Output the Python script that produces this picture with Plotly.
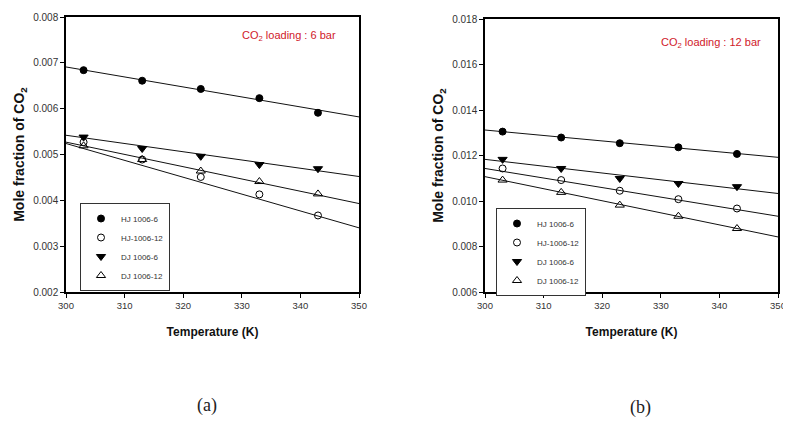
import plotly.graph_objects as go

# ---------------- data ----------------
temps = [303, 313, 323, 333, 343]
fit_x = [300, 350]

series_names = ["HJ 1006-6", "HJ-1006-12", "DJ 1006-6", "DJ 1006-12"]

# panel (a): CO2 loading 6 bar
a_hj6 = [0.00684, 0.00661, 0.00643, 0.00623, 0.00591]
a_hj12 = [0.00527, 0.00489, 0.00451, 0.00413, 0.00367]
a_dj6 = [0.00538, 0.00513, 0.00496, 0.00478, 0.00469]
a_dj12 = [0.00519, 0.00489, 0.00464, 0.00441, 0.00414]
a_fit_hj6 = [0.00691, 0.00582]
a_fit_hj12 = [0.00524, 0.00340]
a_fit_dj6 = [0.00542, 0.00452]
a_fit_dj12 = [0.00527, 0.00393]

# panel (b): CO2 loading 12 bar
b_hj6 = [0.01305, 0.01279, 0.01254, 0.01236, 0.01207]
b_hj12 = [0.01143, 0.01092, 0.01045, 0.01008, 0.00967]
b_dj6 = [0.01183, 0.01143, 0.01099, 0.01077, 0.01063]
b_dj12 = [0.01092, 0.01038, 0.00982, 0.00933, 0.00879]
b_fit_hj6 = [0.01312, 0.01192]
b_fit_hj12 = [0.01143, 0.00933]
b_fit_dj6 = [0.01183, 0.01033]
b_fit_dj12 = [0.01107, 0.00842]

x_ticks = [300, 310, 320, 330, 340, 350]

# ---------------- layout helpers (page body has an 8px margin) ----------------
OFF = 8
W, H = 791 - OFF, 425 - 2 * OFF


def fx(px):
    return (px - OFF) / W


def fy(py):
    return 1 - (py - OFF) / H


# ---------------- styles ----------------
marker_styles = [
    dict(symbol="circle", color="black", size=7, line=dict(color="black", width=1)),
    dict(symbol="circle-open", color="black", size=7, line=dict(color="black", width=1)),
    dict(symbol="triangle-down", color="black", size=8, line=dict(color="black", width=1)),
    dict(symbol="triangle-up-open", color="black", size=8, line=dict(color="black", width=1)),
]

fig = go.Figure()

panels = [
    ("x", "y", "legend", [a_hj6, a_hj12, a_dj6, a_dj12],
     [a_fit_hj6, a_fit_hj12, a_fit_dj6, a_fit_dj12]),
    ("x2", "y2", "legend2", [b_hj6, b_hj12, b_dj6, b_dj12],
     [b_fit_hj6, b_fit_hj12, b_fit_dj6, b_fit_dj12]),
]

for xa, ya, leg, vals, fits in panels:
    for name, v, f, ms in zip(series_names, vals, fits, marker_styles):
        fig.add_trace(go.Scatter(
            x=fit_x, y=f, mode="lines", xaxis=xa, yaxis=ya,
            line=dict(color="#111", width=1), showlegend=False, hoverinfo="skip"))
    for name, v, f, ms in zip(series_names, vals, fits, marker_styles):
        fig.add_trace(go.Scatter(
            x=temps, y=v, mode="markers", xaxis=xa, yaxis=ya,
            marker=ms, name=name, legend=leg))

xtick_font = dict(family="Liberation Sans, Arial", size=9.5, color="#333")
ytick_font = dict(family="Liberation Sans, Arial", size=10, color="#333")
ytitle_font = dict(family="Liberation Sans, Arial", size=14, color="#111")
xtitle_font = dict(family="Liberation Sans, Arial", size=12, color="#111")

common_x = dict(
    range=[300, 350], tickvals=x_ticks, ticks="outside", ticklen=4,
    tickcolor="black", showline=True, linecolor="black", linewidth=1.5,
    mirror=True, showgrid=False, zeroline=False, tickfont=xtick_font,
    automargin=False,
)
common_y = dict(
    ticks="outside", ticklen=4, tickcolor="black", showline=True,
    linecolor="black", linewidth=1.5, mirror=True, showgrid=False,
    zeroline=False, tickfont=ytick_font, tickformat=".3f", automargin=False,
)

fig.update_layout(
    width=W, height=H,
    margin=dict(l=0, r=0, t=0, b=0, autoexpand=False),
    paper_bgcolor="white", plot_bgcolor="white",
    xaxis=dict(domain=[fx(66), fx(359)], anchor="y",
               title=dict(text="<b>Temperature (K)</b>", font=xtitle_font, standoff=17),
               **common_x),
    yaxis=dict(domain=[fy(292), fy(17)], anchor="x", range=[0.002, 0.008], dtick=0.001,
               title=dict(text="<b>Mole fraction of CO<sub>2</sub></b>", font=ytitle_font, standoff=5),
               **common_y),
    xaxis2=dict(domain=[fx(485), fx(778)], anchor="y2",
                title=dict(text="<b>Temperature (K)</b>", font=xtitle_font, standoff=17),
                **common_x),
    yaxis2=dict(domain=[fy(292), fy(19)], anchor="x2", range=[0.006, 0.018], dtick=0.002,
                title=dict(text="<b>Mole fraction of CO<sub>2</sub></b>", font=ytitle_font, standoff=5),
                **common_y),
    legend=dict(x=fx(80), y=fy(203), xanchor="left", yanchor="top",
                bordercolor="#333", borderwidth=1, bgcolor="white",
                font=dict(family="Liberation Sans, Arial", size=8, color="#333"),
                tracegroupgap=0, itemwidth=30),
    legend2=dict(x=fx(496), y=fy(208), xanchor="left", yanchor="top",
                 bordercolor="#333", borderwidth=1, bgcolor="white",
                 font=dict(family="Liberation Sans, Arial", size=8, color="#333"),
                 tracegroupgap=0, itemwidth=30),
    annotations=[
        dict(text="CO<sub>2</sub> loading : 6 bar", xref="paper", yref="paper",
             x=fx(338), y=fy(36), xanchor="right", yanchor="middle",
             showarrow=False, font=dict(family="Liberation Sans, Arial", size=11, color="#d0202a")),
        dict(text="CO<sub>2</sub> loading : 12 bar", xref="paper", yref="paper",
             x=fx(763), y=fy(43), xanchor="right", yanchor="middle",
             showarrow=False, font=dict(family="Liberation Sans, Arial", size=11, color="#d0202a")),
        dict(text="(a)", xref="paper", yref="paper", x=fx(207), y=fy(405),
             xanchor="center", yanchor="middle", showarrow=False,
             font=dict(family="Liberation Serif, DejaVu Serif", size=18, color="#222")),
        dict(text="(b)", xref="paper", yref="paper", x=fx(640), y=fy(407),
             xanchor="center", yanchor="middle", showarrow=False,
             font=dict(family="Liberation Serif, DejaVu Serif", size=18, color="#222")),
    ],
)

fig.write_html("out.html")
